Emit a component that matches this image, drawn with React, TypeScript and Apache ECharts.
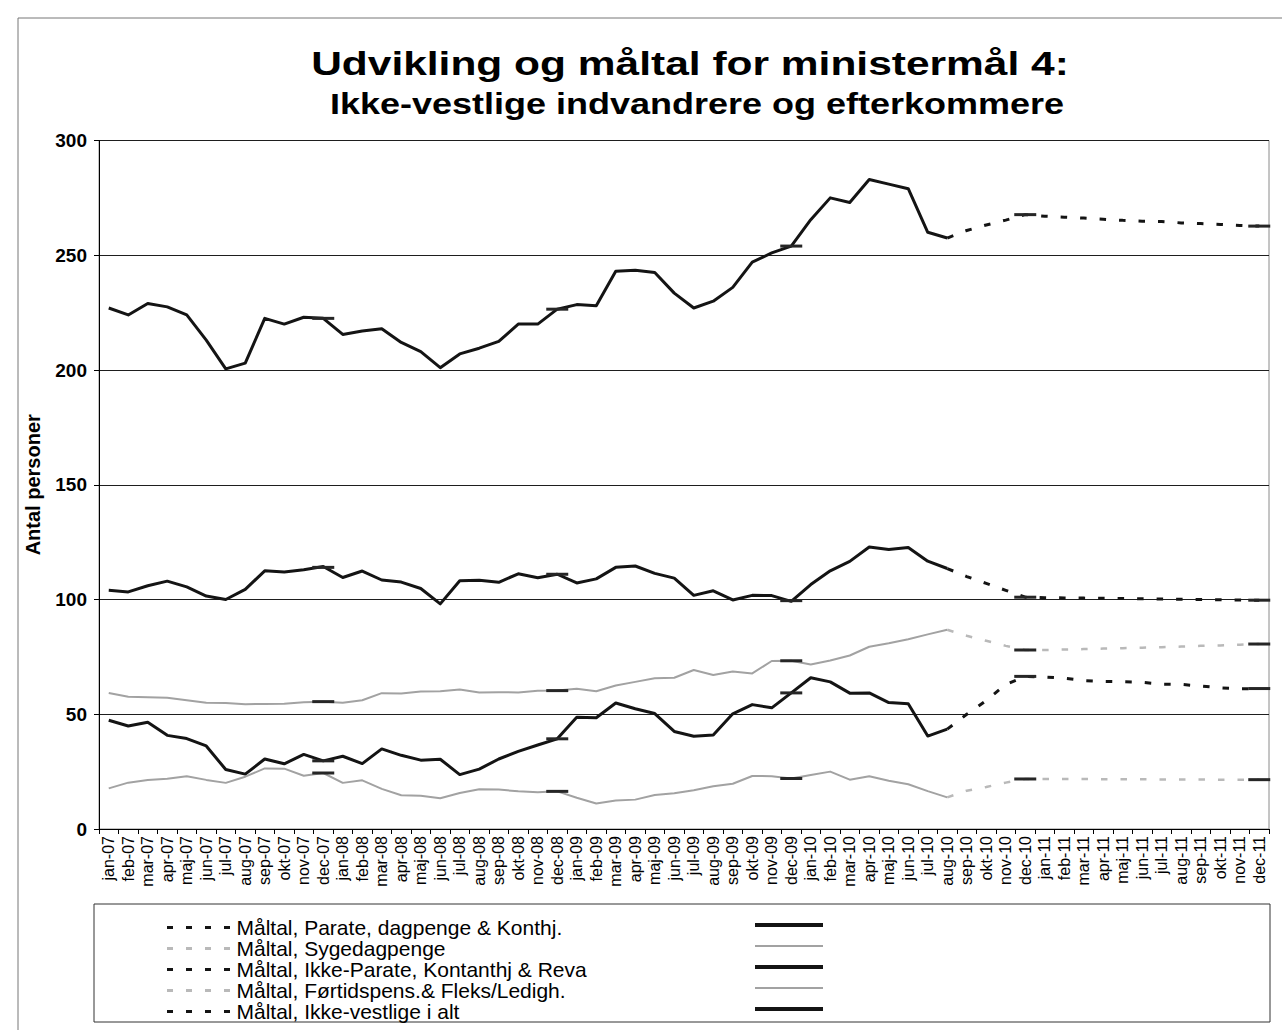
import React, { useEffect, useRef } from "react";
import * as echarts from "echarts";

// ---------- categories ----------
const MONTHS = ["jan", "feb", "mar", "apr", "maj", "jun", "jul", "aug", "sep", "okt", "nov", "dec"];
const YEARS = ["07", "08", "09", "10", "11"];
const categories = YEARS.flatMap((y) => MONTHS.map((m) => `${m}-${y}`));

// ---------- series names ----------
const seriesNames = [
  "Parate, dagpenge & Konthj.",
  "Sygedagpenge",
  "Ikke-Parate, Kontanthj & Reva",
  "Førtidspens.& Fleks/Ledigh.",
  "Ikke-vestlige i alt",
];
const targetNames = seriesNames.map((n) => `Måltal, ${n}`);

// ---------- actual values, jan-07 .. aug-10 ----------
const parate = [
  47.4, 44.9, 46.5, 40.8, 39.4, 36.2, 25.9, 23.9, 30.5, 28.4, 32.5, 29.7,
  31.7, 28.5, 34.9, 32.1, 30, 30.4, 23.7, 26.1, 30.5, 33.8, 36.6, 39.3,
  48.7, 48.5, 54.9, 52.4, 50.3, 42.5, 40.4, 41, 50.2, 54.2, 52.8, 59.3,
  65.9, 64.1, 59.2, 59.3, 55.1, 54.6, 40.5, 43.5,
];
const syge = [
  17.7, 20.2, 21.3, 21.9, 23, 21.4, 20.1, 22.8, 26.4, 26.3, 23.2, 24.4,
  20.1, 21.2, 17.5, 14.7, 14.5, 13.4, 15.7, 17.3, 17.2, 16.4, 16, 16.4,
  13.6, 11.1, 12.4, 12.8, 14.8, 15.6, 16.9, 18.6, 19.7, 23.1, 23, 22,
  23.5, 25, 21.5, 23, 21, 19.5, 16.5, 13.8,
];
const ikkeParate = [
  104, 103.3, 106, 108, 105.5, 101.5, 100, 104.4, 112.5, 112, 113, 114.4,
  109.6, 112.4, 108.5, 107.6, 104.8, 98.1, 108.2, 108.4, 107.5, 111.2, 109.5, 111,
  107.2, 109, 114, 114.6, 111.4, 109.3, 101.8, 103.8, 99.8, 101.8, 101.7, 99.2,
  106.5, 112.5, 116.6, 122.9, 121.8, 122.7, 116.7, 113.5,
];
const fortid = [
  59.3, 57.6, 57.4, 57.2, 56.1, 55, 54.9, 54.4, 54.5, 54.6, 55.2, 55.5,
  55, 56.1, 59.2, 59, 59.9, 60, 60.8, 59.5, 59.6, 59.5, 60.2, 60.3,
  61.1, 60, 62.5, 64.1, 65.7, 65.9, 69.3, 67.1, 68.6, 67.8, 73.2, 73.3,
  71.7, 73.4, 75.6, 79.4, 80.9, 82.7, 84.8, 86.8,
];
const total = [
  227, 224, 229, 227.5, 224, 213, 200.5, 203, 222.5, 220, 223, 222.5,
  215.5, 217, 218, 212, 208, 201, 207, 209.5, 212.5, 220, 220, 226.5,
  228.5, 228, 243, 243.5, 242.5, 233.5, 227, 230, 236, 247, 251, 254,
  265.5, 275, 273, 283, 281, 279, 260, 257.5,
];

// ---------- targets (Måltal) ----------
const stubMonths = ["dec-07", "dec-08", "dec-09"];
const markerMonths = ["dec-07", "dec-08", "dec-09", "dec-10", "dec-11"];
const forecastMonths = categories.slice(categories.indexOf("aug-10")); // aug-10 .. dec-11

const parateStubs = [29.7, 39.3, 59.3];
const sygeStubs = [24.4, 16.4, 22];
const ikkeParateStubs = [114, 111, 99.5];
const fortidStubs = [55.5, 60.3, 73.3];
const totalStubs = [222.5, 226.5, 254];

const parateTarget = [43.5, 50, 56, 63, 66.5, 66.2, 65.7, 64.7, 64.3, 64.2, 63.9, 63.1, 63, 62.3, 61.5, 61.1, 61.2];
const sygeTarget = [13.8, 16.7, 18.3, 20.2, 21.8, 21.8, 21.8, 21.8, 21.7, 21.7, 21.7, 21.6, 21.6, 21.6, 21.5, 21.5, 21.5];
const ikkeParateTarget = [113.5, 110, 107, 104, 101, 100.8, 100.7, 100.6, 100.5, 100.4, 100.3, 100.2, 100.1, 100, 99.9, 99.8, 99.7];
const fortidTarget = [86.8, 84.2, 82, 79.8, 78, 78, 78.2, 78.4, 78.6, 78.8, 79, 79.2, 79.5, 79.8, 80, 80.3, 80.6];
const totalTarget = [257.5, 260.8, 263.2, 265.3, 267.7, 267, 266.6, 266.2, 265.7, 265.2, 264.8, 264.7, 264.1, 263.8, 263.4, 263, 262.7];

// ---------- styling ----------
const FONT = '"Liberation Sans", Arial, Helvetica, sans-serif';
const BLACK = "#141414";
const GRAY = "#a2a2a2";
const GRAY_T = "#b9b9b9";
const MARK_DARK = "#262626";
const DASH_ICON = "path://M0,0h6v3h-6z M19,0h6v3h-6z M38,0h6v3h-6z M57,0h6v3h-6z";

function targetData(stubs: number[], forecast: number[]) {
  const map = new Map<string, number>();
  stubMonths.forEach((m, k) => map.set(m, stubs[k]));
  forecastMonths.forEach((m, k) => map.set(m, forecast[k]));
  return categories.map((c) => {
    if (!map.has(c)) return "-";
    const v = map.get(c) as number;
    if (markerMonths.includes(c)) {
      return { value: v, symbol: "rect", symbolSize: [22, 3], itemStyle: { color: MARK_DARK } };
    }
    return v;
  });
}

const actualSets = [
  { data: parate, color: BLACK, width: 3 },
  { data: syge, color: GRAY, width: 2 },
  { data: ikkeParate, color: BLACK, width: 3 },
  { data: fortid, color: GRAY, width: 2 },
  { data: total, color: BLACK, width: 3 },
];
const targetSets = [
  { stubs: parateStubs, forecast: parateTarget, color: BLACK, width: 3 },
  { stubs: sygeStubs, forecast: sygeTarget, color: GRAY_T, width: 2.5 },
  { stubs: ikkeParateStubs, forecast: ikkeParateTarget, color: BLACK, width: 3 },
  { stubs: fortidStubs, forecast: fortidTarget, color: GRAY_T, width: 2.5 },
  { stubs: totalStubs, forecast: totalTarget, color: BLACK, width: 3 },
];

export default function App() {
  const ref = useRef<HTMLDivElement>(null);

  useEffect(() => {
    if (!ref.current) return;
    const chart = echarts.init(ref.current, undefined, { renderer: "svg" });

    const series: any[] = [];
    actualSets.forEach((s, i) => {
      series.push({
        type: "line",
        name: seriesNames[i],
        data: s.data,
        color: s.color,
        symbol: "none",
        lineStyle: { color: s.color, width: s.width, join: "round" },
        z: 3,
      });
    });
    targetSets.forEach((s, i) => {
      series.push({
        type: "line",
        name: targetNames[i],
        data: targetData(s.stubs, s.forecast),
        color: s.color,
        symbol: "none",
        showSymbol: true,
        showAllSymbol: true,
        connectNulls: false,
        lineStyle: { color: s.color, width: s.width, type: [6.5, 13] },
        z: 4,
      });
    });

    const legendRowY = [925, 946, 967, 988, 1009];
    const legendSamples = actualSets.map((s, i) => ({
      type: "line",
      shape: { x1: 755, y1: legendRowY[i], x2: 823, y2: legendRowY[i] },
      style: { stroke: s.color, lineWidth: s.width === 3 ? 4 : 2 },
    }));

    chart.setOption({
      animation: false,
      backgroundColor: "#ffffff",
      textStyle: { fontFamily: FONT },
      grid: {
        left: 99,
        top: 140.5,
        width: 1170,
        height: 688.5,
        show: true,
        borderColor: "#8a8a8a",
        borderWidth: 1,
        containLabel: false,
      },
      xAxis: {
        type: "category",
        data: categories,
        boundaryGap: true,
        axisLine: { show: true, lineStyle: { color: "#000", width: 1 } },
        axisTick: { show: true, interval: 0, length: 5, lineStyle: { color: "#000" } },
        axisLabel: {
          interval: 0,
          rotate: 90,
          fontSize: 16,
          margin: 7,
          color: "#000",
          fontFamily: FONT,
        },
        splitLine: { show: false },
      },
      yAxis: {
        type: "value",
        min: 0,
        max: 300,
        interval: 50,
        name: "Antal personer",
        nameLocation: "middle",
        nameRotate: 90,
        nameGap: 56,
        nameTextStyle: { fontSize: 20, fontWeight: "bold", color: "#000", fontFamily: FONT },
        axisLine: { show: true, lineStyle: { color: "#000", width: 1 } },
        axisTick: { show: true, length: 5, lineStyle: { color: "#000" } },
        axisLabel: { fontSize: 19, fontWeight: "bold", color: "#000", margin: 12, fontFamily: FONT },
        splitLine: { show: true, lineStyle: { color: "#1e1e1e", width: 1 } },
      },
      legend: {
        data: targetNames.map((n) => ({ name: n, icon: DASH_ICON })),
        orient: "vertical",
        left: 162,
        top: 912,
        itemWidth: 66,
        itemHeight: 3,
        itemGap: 0,
        selectedMode: false,
        itemStyle: { borderWidth: 0 },
        textStyle: { fontSize: 21, lineHeight: 19.5, color: "#000", fontFamily: FONT },
      },
      graphic: [
        {
          type: "rect",
          shape: { x: 18, y: 18, width: 1300, height: 1100 },
          style: { fill: "none", stroke: "#777", lineWidth: 1 },
          silent: true,
        },
        {
          type: "text",
          x: 690,
          y: 63,
          scaleX: 1.25,
          style: {
            text: "Udvikling og måltal for ministermål 4:",
            font: `bold 34px ${FONT}`,
            fill: "#000",
            align: "center",
            verticalAlign: "middle",
            textAlign: "center",
            textVerticalAlign: "middle",
          },
        },
        {
          type: "text",
          x: 697,
          y: 104,
          scaleX: 1.2,
          style: {
            text: "Ikke-vestlige indvandrere og efterkommere",
            font: `bold 30px ${FONT}`,
            fill: "#000",
            align: "center",
            verticalAlign: "middle",
            textAlign: "center",
            textVerticalAlign: "middle",
          },
        },
        {
          type: "rect",
          shape: { x: 94, y: 904, width: 1176, height: 118 },
          style: { fill: "none", stroke: "#333", lineWidth: 1 },
          silent: true,
        },
        ...legendSamples,
      ],
      series,
    });

    return () => {
      chart.dispose();
    };
  }, []);

  return (
    <div
      ref={ref}
      style={{ position: "fixed", left: 0, top: 0, width: 1282, height: 1030, background: "#fff" }}
    />
  );
}
